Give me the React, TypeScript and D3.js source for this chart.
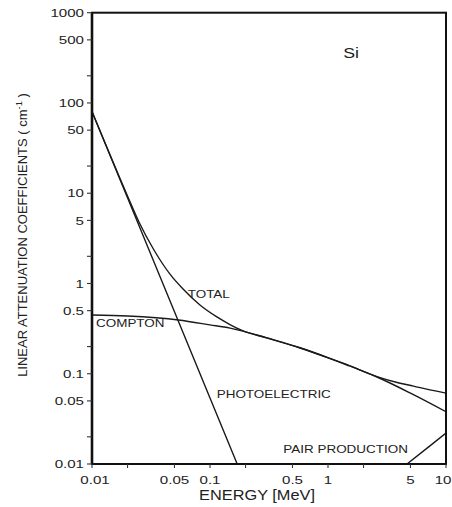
import React from "react";
import * as d3 from "d3";

const W = 452;
const H = 507;

// Axis ticks
const xMajorTicks = [0.01, 0.05, 0.1, 0.5, 1, 5, 10];
const xMajorLabels = ["0.01", "0.05", "0.1", "0.5", "1", "5", "10"];
const xMinorTicks = [0.02, 0.2, 2];
const yMajorTicks = [1000, 500, 100, 50, 10, 5, 1, 0.5, 0.1, 0.05, 0.01];
const yMajorLabels = ["1000", "500", "100", "50", "10", "5", "1", "0.5", "0.1", "0.05", "0.01"];
const yMinorTicks = [200, 20, 2, 0.2, 0.02];

// Series (energy in MeV, linear attenuation in cm^-1)
const photoE = [0.01, 0.02, 0.05, 0.1, 0.17];
const photoV = [80, 8.9, 0.486, 0.054, 0.01];

const comptonE = [0.01, 0.02, 0.054, 0.1, 0.148, 0.3, 0.58, 1, 1.45, 2.6, 5, 10];
const comptonV = [0.448, 0.436, 0.394, 0.348, 0.32, 0.25, 0.193, 0.15, 0.125, 0.092, 0.061, 0.038];

const totalE = [0.01, 0.02, 0.025, 0.0335, 0.0458, 0.0591, 0.0822, 0.1144, 0.1475, 0.1866, 0.3, 0.58, 1, 1.45, 2.6, 4, 5.3, 7, 10];
const totalV = [80.5, 9.32, 4.8, 2.35, 1.27, 0.869, 0.578, 0.426, 0.351, 0.302, 0.251, 0.194, 0.151, 0.126, 0.093, 0.079, 0.073, 0.067, 0.061];

const pairE = [4.67, 7, 10];
const pairV = [0.01, 0.0152, 0.022];

const FONT = "'Liberation Sans', Arial, Helvetica, sans-serif";

function SText(props: {
  x: number; y: number; size: number; sx?: number; anchor?: string; children: React.ReactNode;
}) {
  const { x, y, size, sx = 1, anchor = "start", children } = props;
  return (
    <text
      transform={`translate(${x},${y}) scale(${sx},1)`}
      fontFamily={FONT}
      fontSize={size}
      textAnchor={anchor}
      fill="#222"
    >
      {children}
    </text>
  );
}

export default function App() {
  const x = d3.scaleLog().domain([0.01, 10]).range([92, 446]);
  const y = d3.scaleLog().domain([0.01, 1000]).range([464, 12.7]);

  const mk = (es: number[], vs: number[], curve: d3.CurveFactory) =>
    d3
      .line<number>()
      .x((_, i) => x(es[i]))
      .y((_, i) => y(vs[i]))
      .curve(curve)(vs.map((v) => v)) || "";

  const photoPath = mk(photoE, photoV, d3.curveLinear);
  const comptonPath = mk(comptonE, comptonV, d3.curveMonotoneX);
  const totalPath = mk(totalE, totalV, d3.curveMonotoneX);
  const pairPath = mk(pairE, pairV, d3.curveMonotoneX);

  const [x0, x1] = x.range();
  const [y0, y1] = y.range();

  return (
    <svg
      width={W}
      height={H}
      style={{ position: "absolute", left: 0, top: 0, background: "#fff" }}
    >
      <defs>
        <clipPath id="plot">
          <rect x={x0} y={y1} width={x1 - x0} height={y0 - y1} />
        </clipPath>
      </defs>

      {/* curves */}
      <g clipPath="url(#plot)" fill="none" stroke="#1a1a1a" strokeWidth={1.4}>
        <path d={photoPath} />
        <path d={comptonPath} />
        <path d={totalPath} />
        <path d={pairPath} />
      </g>

      {/* frame */}
      <rect x={x0} y={y1} width={x1 - x0} height={y0 - y1} fill="none" stroke="#111" strokeWidth={2} />
      <line x1={x0} x2={x0} y1={y1} y2={y0} stroke="#111" strokeWidth={2.6} />

      {/* y ticks */}
      {yMajorTicks.concat(yMinorTicks).map((t) => (
        <line key={"yt" + t} x1={x0 - 5} x2={x0} y1={y(t)} y2={y(t)} stroke="#333" strokeWidth={1.1} />
      ))}
      {yMajorTicks.map((t, i) => (
        <SText key={"yl" + t} x={84} y={y(t) + 4.2} size={11.6} sx={1.3} anchor="end">
          {yMajorLabels[i]}
        </SText>
      ))}

      {/* x ticks */}
      {xMajorTicks.concat(xMinorTicks).map((t) => (
        <line key={"xt" + t} x1={x(t)} x2={x(t)} y1={y0} y2={y0 + 4} stroke="#333" strokeWidth={1.1} />
      ))}
      {xMajorTicks.map((t, i) => {
        const last = i === xMajorTicks.length - 1;
        return (
          <SText
            key={"xl" + t}
            x={last ? 451.5 : x(t) + (i === 0 ? 3 : 0)}
            y={483.5}
            size={11.6}
            sx={1.3}
            anchor={last ? "end" : "middle"}
          >
            {xMajorLabels[i]}
          </SText>
        );
      })}

      {/* axis titles */}
      <SText x={257} y={500} size={15} sx={1.09} anchor="middle">
        ENERGY [MeV]
      </SText>
      <text
        transform="translate(27,235) rotate(-90)"
        fontFamily={FONT}
        fontSize={13}
        textAnchor="middle"
        fill="#222"
      >
        LINEAR ATTENUATION COEFFICIENTS ( cm
        <tspan fontSize={9.3} dy={-5}>-1</tspan>
        <tspan dy={5}> )</tspan>
      </text>

      {/* curve labels */}
      <SText x={343.3} y={57.7} size={15.4} sx={1.15}>Si</SText>
      <SText x={187.7} y={298.3} size={10.6} sx={1.27}>TOTAL</SText>
      <SText x={96} y={327} size={10.6} sx={1.27}>COMPTON</SText>
      <SText x={216.7} y={398.3} size={10.6} sx={1.27}>PHOTOELECTRIC</SText>
      <SText x={283.3} y={453} size={10.6} sx={1.27}>PAIR PRODUCTION</SText>
    </svg>
  );
}
